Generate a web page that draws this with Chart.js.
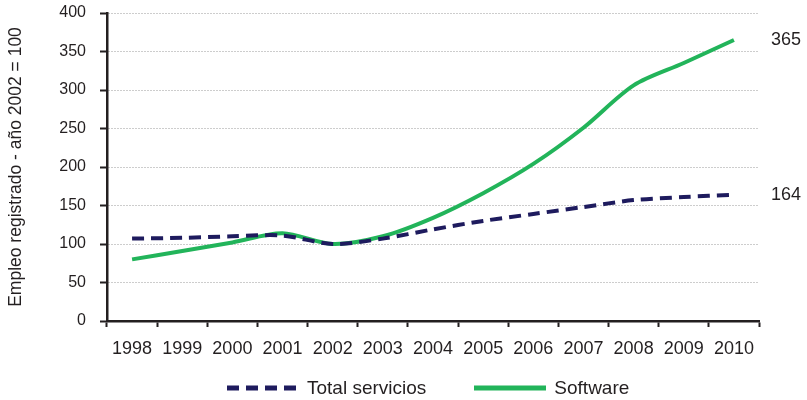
<!DOCTYPE html>
<html lang="es">
<head>
<meta charset="utf-8">
<title>Empleo registrado</title>
<script src="https://cdn.jsdelivr.net/npm/chart.js@4.4.1/dist/chart.umd.min.js"></script>
<style>
  html, body { margin: 0; padding: 0; background: #fff; }
  #wrap { position: relative; width: 807px; height: 400px; }
  #legend {
    position: absolute; left: 227px; top: 377px; height: 22px;
    display: flex; align-items: center;
    font-family: "Liberation Sans", Arial, sans-serif; font-size: 19px; color: #231f20;
  }
  #legend .item { display: flex; align-items: center; margin-right: 48px; }
  #legend svg { margin-right: 8px; }
</style>
</head>
<body>
<div id="wrap">
  <canvas id="chart" width="807" height="400"></canvas>
  <div id="legend"></div>
</div>
<script>
// datos
const years = ['1998', '1999', '2000', '2001', '2002', '2003', '2004', '2005', '2006', '2007', '2008', '2009', '2010'];
const totalServicios = [107, 108, 110, 111, 100, 107, 119, 130, 139, 148, 157, 161, 164];
const software = [80, 91, 102, 114, 100, 110, 134, 166, 204, 251, 306, 335, 365];
const yMax = 400;
const yStep = 50;

const navy = '#1e1b5e';
const green = '#22b45a';
const ink = '#231f20';
const font = '"Liberation Sans", Arial, sans-serif';

// etiqueta con el ultimo valor de cada serie, a la derecha del grafico
const endLabels = {
    id: 'endLabels',
    afterDatasetsDraw(chart) {
        const ctx = chart.ctx;
        ctx.save();
        ctx.font = '18px ' + font;
        ctx.fillStyle = ink;
        ctx.textAlign = 'left';
        ctx.textBaseline = 'middle';
        chart.data.datasets.forEach((ds, i) => {
            const meta = chart.getDatasetMeta(i);
            const last = meta.data[meta.data.length - 1];
            ctx.fillText(String(ds.data[ds.data.length - 1]), chart.chartArea.right + 12, last.y);
        });
        ctx.restore();
    }
};

const chart = new Chart(document.getElementById('chart'), {
    type: 'line',
    data: {
        labels: years,
        datasets: [{
            label: 'Total servicios',
            data: totalServicios,
            borderColor: navy,
            borderWidth: 4,
            borderDash: [12, 7],
            tension: 0.3,
            pointRadius: 0,
            fill: false
        }, {
            label: 'Software',
            data: software,
            borderColor: green,
            borderWidth: 4,
            tension: 0.3,
            pointRadius: 0,
            fill: false
        }]
    },
    options: {
        responsive: false,
        animation: false,
        layout: { padding: { top: 13, right: 48, bottom: 34, left: 0 } },
        plugins: {
            legend: { display: false },
            tooltip: { enabled: false }
        },
        scales: {
            x: {
                offset: true,
                grid: {
                    offset: true,
                    drawOnChartArea: false,
                    tickLength: 6,
                    tickColor: ink,
                    tickWidth: 2
                },
                border: { color: ink, width: 2.5 },
                ticks: {
                    color: ink,
                    font: { family: font, size: 18 },
                    padding: 11,
                    maxRotation: 0,
                    autoSkip: false
                },
                afterFit(scale) { scale.height = 45; }
            },
            y: {
                min: 0,
                max: yMax,
                ticks: {
                    stepSize: yStep,
                    color: ink,
                    font: { family: font, size: 16 },
                    padding: 14
                },
                grid: {
                    color: '#9a9a9a',
                    lineWidth: 1,
                    tickLength: 7,
                    tickColor: ink,
                    tickWidth: 2,
                    tickBorderDash: []
                },
                // en v4 border.dash es el punteado de las lineas de la grilla
                border: { color: ink, width: 2.5, dash: [1, 2] },
                title: {
                    display: true,
                    text: 'Empleo registrado - año 2002 = 100',
                    color: ink,
                    font: { family: font, size: 17.5 },
                    padding: { top: 6, bottom: 0 }
                },
                afterFit(scale) {
                    scale.width = 107;
                    // el margen lo fija layout.padding
                    scale.paddingTop = 0;
                    scale.paddingBottom = 0;
                }
            }
        }
    },
    plugins: [endLabels]
});

// leyenda en HTML con una muestra de cada linea
const legend = document.getElementById('legend');
chart.data.datasets.forEach(ds => {
    const dash = ds.borderDash ? ds.borderDash.join(' ') : 'none';
    const item = document.createElement('span');
    item.className = 'item';
    item.innerHTML =
        '<svg width="72" height="6"><line x1="0" y1="3" x2="72" y2="3" stroke="' + ds.borderColor +
        '" stroke-width="5" stroke-dasharray="' + dash + '"/></svg>' +
        '<span>' + ds.label + '</span>';
    legend.appendChild(item);
});
</script>
</body>
</html>
